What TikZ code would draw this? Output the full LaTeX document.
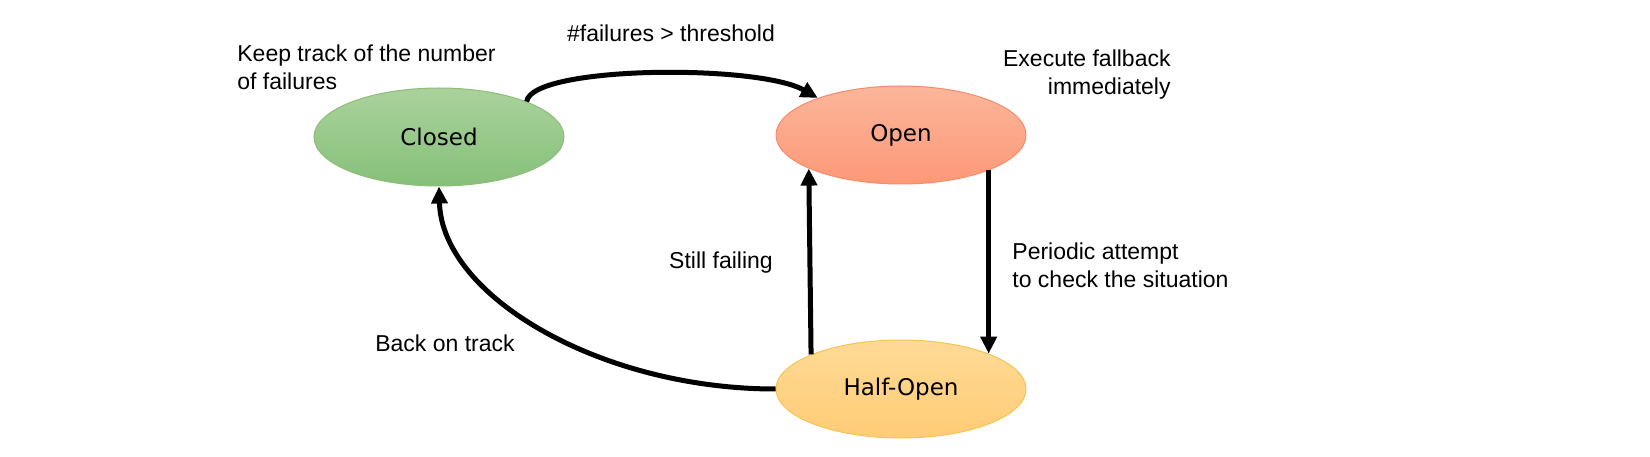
\documentclass[tikz,border=0pt]{standalone}
\usepackage{fontspec}
\setmainfont{Liberation Sans}
\newfontfamily\statefont{DejaVu Sans}
\usetikzlibrary{shapes.geometric,arrows.meta}

\definecolor{closedtop}{RGB}{170,210,156}
\definecolor{closedbot}{RGB}{134,192,122}
\definecolor{closedline}{RGB}{140,190,120}
\definecolor{opentop}{RGB}{251,182,154}
\definecolor{openbot}{RGB}{253,152,120}
\definecolor{openline}{RGB}{246,140,105}
\definecolor{halftop}{RGB}{255,218,150}
\definecolor{halfbot}{RGB}{255,204,118}
\definecolor{halfline}{RGB}{246,196,80}

\begin{document}
\begin{tikzpicture}[x=0.5pt,y=0.5pt,
  state/.style={ellipse,draw,line width=0.5pt,minimum width=125pt,minimum height=49pt,inner sep=0pt,font=\statefont\fontsize{11.5}{14}\selectfont},
  note/.style={font=\fontsize{11.5}{14}\selectfont,inner sep=0pt},
  arr/.style={line width=2.5pt,-{Triangle[length=8.5pt,width=8pt]}}]
\useasboundingbox (0,0) rectangle (1650,456);
% nodes
\node [state,draw=closedline,top color=closedtop,bottom color=closedbot] (closed) at (439,319) {Closed};
\node [state,draw=openline,top color=opentop,bottom color=openbot] (open) at (901,321) {Open};
\node [state,draw=halfline,top color=halftop,bottom color=halfbot] (half) at (901,67) {Half-Open};

\node [note,anchor=west,align=left] (keep) at (237,389) {Keep track of the number\\of failures};
\node [note] (thresh) at (671,423) {\#failures > threshold};
\node [note,anchor=east,align=right] (exec) at (1171,381) {Execute fallback\hspace{2pt}\\immediately};
\node [note] (still) at (721,193) {Still failing};
\node [note,anchor=west,align=left] (period) at (1012,191) {Periodic attempt\\to check the situation};
\node [note] (back) at (445,113) {Back on track};

% connectors
\draw [arr] (closed.22) .. controls +(5,36) and +(-60,34) .. (open.156);
\draw [arr] (open.-22.7) -- (half.22.7);
\draw [arr] (half.159.5) -- (open.200.5);
\draw [arr] (half.west) .. controls (600,67) and (442,160) .. (closed.south);

\end{tikzpicture}
\end{document}
